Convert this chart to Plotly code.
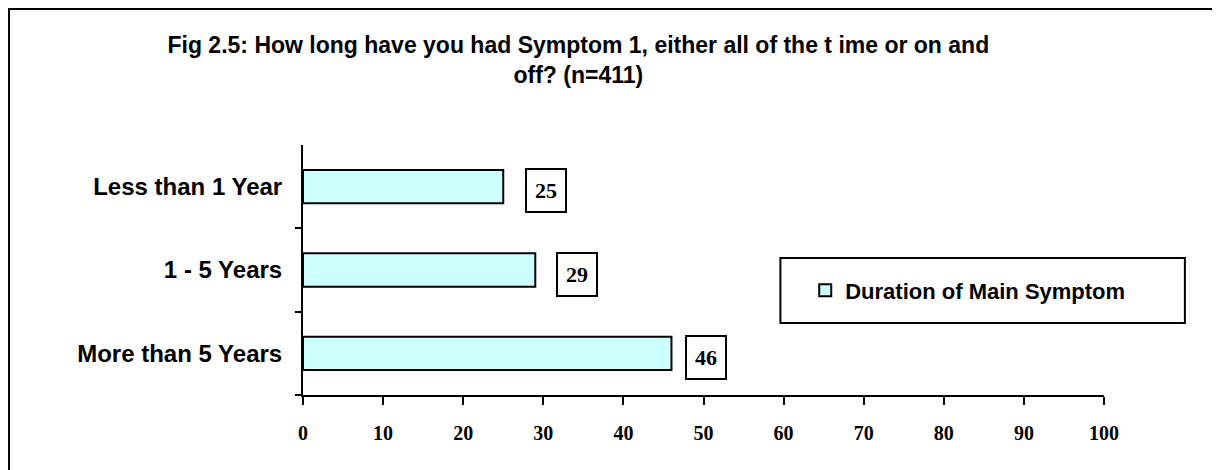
import plotly.graph_objects as go

categories = ["Less than 1 Year", "1 - 5 Years", "More than 5 Years"]
values = [25, 29, 46]
series_name = "Duration of Main Symptom"
x_ticks = [0, 10, 20, 30, 40, 50, 60, 70, 80, 90, 100]
title_text = "Fig 2.5: How long have you had Symptom 1, either all of the t ime or on and<br>off? (n=411)"

fig = go.Figure()
fig.add_trace(go.Bar(
    y=categories, x=values, orientation="h", name="<b>" + series_name + "</b>",
    marker=dict(color="#CCFFFF", line=dict(color="black", width=2)),
    width=0.4, showlegend=True,
))

# value labels in boxes
shifts = [22, 21, 14]
for c, v, s in zip(categories, values, shifts):
    fig.add_annotation(
        x=v, y=c, xref="x", yref="y", text="<b>%d</b>" % v, showarrow=False,
        xanchor="left", xshift=s, yshift=-4,
        font=dict(family="Liberation Serif", size=22, color="black"),
        bordercolor="black", borderwidth=2, borderpad=8, bgcolor="white",
    )

# outer frame and legend frame
fig.add_shape(type="rect", xref="paper", yref="paper", x0=-0.367, x1=1.142, y0=-0.34, y1=1.544,
              line=dict(color="black", width=2), fillcolor="rgba(0,0,0,0)")
fig.add_shape(type="rect", xref="paper", yref="paper", x0=0.596, x1=1.101, y0=0.288, y1=0.548,
              line=dict(color="black", width=2), fillcolor="rgba(0,0,0,0)")

fig.update_layout(
    width=1220, height=470,
    margin=dict(l=295, r=124, t=137, b=83),
    paper_bgcolor="white", plot_bgcolor="white",
    title=dict(text="<b>" + title_text + "</b>", xref="container", x=0.4675, xanchor="center",
               y=0.905, yanchor="top",
               font=dict(family="Liberation Sans", size=23, color="black")),
    legend=dict(x=0.627, y=0.418, xanchor="left", yanchor="middle",
                font=dict(family="Liberation Sans", size=22, color="black"),
                bgcolor="rgba(0,0,0,0)", itemwidth=30),
    bargap=0.6,
)
fig.update_xaxes(
    range=[0, 100], tickvals=x_ticks, ticktext=["<b>%d</b>" % t for t in x_ticks],
    showgrid=False, zeroline=False, showline=True, linecolor="black", linewidth=2,
    ticks="outside", ticklen=8, tickwidth=2, tickcolor="black",
    tickfont=dict(family="Liberation Serif", size=20, color="black"),
    ticklabelstandoff=11, fixedrange=True,
)
fig.update_yaxes(
    categoryorder="array", categoryarray=categories[::-1],
    tickvals=categories, ticktext=["<b>%s</b>" % c for c in categories],
    showgrid=False, zeroline=False, showline=True, linecolor="black", linewidth=2,
    ticks="outside", ticklen=6, tickwidth=2, tickcolor="black", tickson="boundaries",
    tickfont=dict(family="Liberation Sans", size=24, color="black"),
    ticklabelstandoff=14, fixedrange=True,
)

fig.write_html("out.html")
